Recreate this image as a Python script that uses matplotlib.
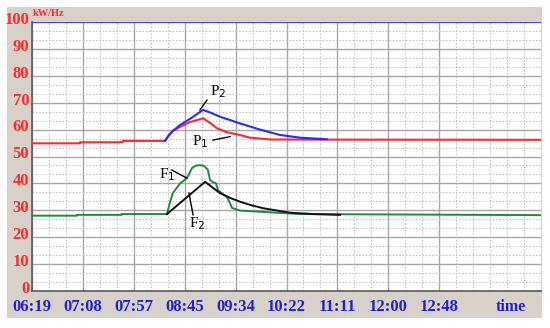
import matplotlib.pyplot as plt
import matplotlib.transforms as mtransforms
from matplotlib.patches import Rectangle
from matplotlib.ticker import MultipleLocator

# time in minutes after 06:19, one grid division = 48.8 min
DIV = 48.8
tick_labels = ['06:19', '07:08', '07:57', '08:45', '09:34', '10:22', '11:11', '12:00', '12:48']

# P1 (red)
p1_t = [0, 46, 46, 87, 87, 127.5, 131, 135, 142, 151.5, 164, 170.6, 177.4, 187, 199.4, 209, 230, 488]
p1_v = [54.9, 54.9, 55.3, 55.3, 55.8, 55.8, 57.8, 59.5, 61, 62.8, 64.2, 62.5, 60.5, 59, 58, 57, 56.3, 56.2]

# P2 (blue)
p2_t = [127.5, 131, 135, 142, 151.5, 164, 170.6, 180.2, 199.4, 218.6, 237.8, 256.9, 282.8]
p2_v = [55.8, 57.8, 59.5, 61.7, 64, 67.3, 66.4, 64.8, 62.3, 60, 58, 57, 56.4]

# F1 (green)
f1_t = [0, 43, 43, 86, 86, 129.4, 132, 135, 142, 147, 149.6, 153.4, 157, 161, 165, 168.7,
        170.6, 173, 176.4, 178.3, 183, 187, 191.7, 199.4, 256.9, 488]
f1_v = [28.0, 28.0, 28.3, 28.3, 28.6, 28.6, 32.5, 36.4, 40, 41.5, 42.7, 45.7, 46.6, 46.8, 46.5, 45,
        41.3, 40.6, 40, 37.5, 36.0, 35, 30.9, 29.9, 28.6, 28.2]

# F2 (black)
f2_t = [129.4, 166, 172, 180.2, 190, 199.4, 210, 221.5, 235, 247.3, 270, 295.3]
f2_v = [28.6, 40.6, 38.8, 36.4, 34.6, 33.2, 31.9, 30.8, 29.9, 29.1, 28.6, 28.3]

serif = ['Liberation Serif', 'DejaVu Serif']

fig = plt.figure(figsize=(5.5, 3.28), dpi=100)
fig.patch.set_facecolor('white')
fig.add_artist(Rectangle((7 / 550, 10 / 328), 535 / 550, 311 / 328,
                         transform=fig.transFigure, facecolor='#d8d1c9',
                         edgecolor='none', zorder=0))

ax = fig.add_axes([32 / 550, 37 / 328, 509 / 550, 269 / 328])
ax.set_facecolor('white')
ax.set_xlim(0, 10 * DIV)
ax.set_ylim(0, 100)

# grid
ax.xaxis.set_major_locator(MultipleLocator(DIV))
ax.xaxis.set_minor_locator(MultipleLocator(DIV / 3))
ax.yaxis.set_major_locator(MultipleLocator(10))
ax.yaxis.set_minor_locator(MultipleLocator(10 / 3))
ax.grid(which='major', color='#a8a8a8', lw=1.0, ls='-')
ax.grid(which='minor', color='#c4c4c4', lw=0.8, ls=(0, (1.5, 1.5)))
ax.set_axisbelow(True)
ax.axhline(100, color='#3a3aff', lw=1.3, zorder=3)

for s in ['top', 'right']:
    ax.spines[s].set_visible(False)
for s in ['left', 'bottom']:
    ax.spines[s].set_color('#5a5a5a')
    ax.spines[s].set_linewidth(1.2)

ax.tick_params(which='both', length=0)
ax.set_xticks([i * DIV for i in range(len(tick_labels))])
ax.set_xticklabels(tick_labels)
ax.set_yticks(range(0, 101, 10))
ax.tick_params(axis='x', pad=6)
ax.tick_params(axis='y', pad=2)
for lab in ax.get_xticklabels():
    lab.set_fontfamily(serif)
    lab.set_fontweight('bold')
    lab.set_fontsize(12)
    lab.set_color('#2020d8')
# y labels sit a little above their grid lines
shift = mtransforms.ScaledTranslation(0, 3 / 72, fig.dpi_scale_trans)
for lab in ax.get_yticklabels():
    lab.set_fontfamily(serif)
    lab.set_fontweight('bold')
    lab.set_fontsize(12)
    lab.set_color('#ff2a2a')
    lab.set_transform(lab.get_transform() + shift)

ax.text(9.4 * DIV, -3.0, 'time', ha='center', va='top', fontfamily=serif,
        fontweight='bold', fontsize=11.5, color='#2020d8', clip_on=False)
ax.text(0.5, 101.5, 'kW/Hz', ha='left', va='bottom', fontfamily=serif,
        fontweight='bold', fontsize=7.5, color='#ff2a2a', clip_on=False)

# curves
ax.plot(p1_t, p1_v, color='#ff2a2a', lw=1.5, zorder=4)
ax.plot(p2_t, p2_v, color='#2a2aff', lw=1.5, zorder=4)
ax.plot(f1_t, f1_v, color='#1e8a3c', lw=1.4, zorder=4)
ax.plot(f2_t, f2_v, color='#111111', lw=1.4, zorder=5)

# labels with leader lines
def tag(txt, sub, tx, ty, x0, y0, x1, y1):
    ax.plot([x0, x1], [y0, y1], color='black', lw=1.0, zorder=6)
    ax.text(tx, ty, '%s$_{\\mathrm{%s}}$' % (txt, sub), ha='center', va='center',
            fontfamily=serif, fontsize=11, color='black', zorder=6)

tag('P', '2', 178, 74, 161, 67.3, 167.8, 71)
tag('P', '1', 161, 55.5, 173.5, 56.1, 190, 57.4)
tag('F', '1', 130, 43.1, 134, 45, 148.6, 41.9)
tag('F', '2', 158, 25.0, 150.5, 36.4, 154.4, 28.3)

fig.savefig('out.png', dpi=100, facecolor='white')
